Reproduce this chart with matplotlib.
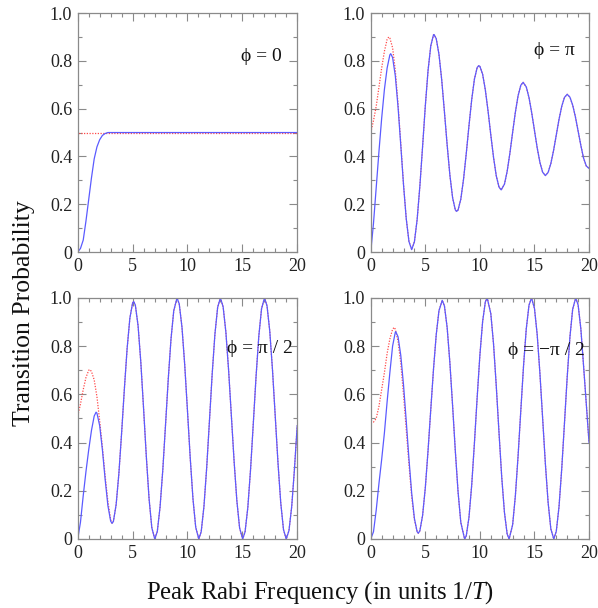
import matplotlib
matplotlib.use("Agg")
import matplotlib.pyplot as plt
from matplotlib.ticker import MultipleLocator, FuncFormatter

plt.rcParams['font.family'] = ['Liberation Serif', 'DejaVu Serif']
plt.rcParams['mathtext.fontset'] = 'custom'
plt.rcParams['mathtext.rm'] = 'Liberation Serif'
plt.rcParams['mathtext.it'] = 'Liberation Serif:italic'

# phase labels of the four panels
phase_labels = ["ϕ = 0", "ϕ = π", "ϕ = π / 2", "ϕ = −π / 2"]

# phi = 0
x_p0 = [0, 0.25, 0.5, 0.75, 1.0, 1.25, 1.5, 1.75, 2.0, 2.25, 2.5, 2.75, 3.0, 20]
blue_p0 = [0, 0.015, 0.05, 0.13, 0.22, 0.31, 0.39, 0.44, 0.47, 0.488, 0.496, 0.5, 0.5, 0.5]
red_x_p0 = [0, 20]
red_p0 = [0.5, 0.5]

# phi = pi
x_p1 = [0, 0.25, 0.5, 0.75, 1.0, 1.25, 1.5, 1.75, 1.83, 2.0, 2.25, 2.5, 2.75, 3.0, 3.25, 3.5,
        3.75, 4.0, 4.25, 4.5, 4.75, 5.0, 5.25, 5.5, 5.75, 5.8, 6.0, 6.25, 6.5, 6.75, 7.0, 7.25,
        7.5, 7.75, 7.87, 8.0, 8.25, 8.5, 8.75, 9.0, 9.25, 9.5, 9.75, 9.9, 10.0, 10.25, 10.5,
        10.75, 11.0, 11.25, 11.5, 11.75, 11.95, 12.25, 12.5, 12.75, 13.0, 13.25, 13.5, 13.75,
        13.96, 14.25, 14.5, 14.75, 15.0, 15.25, 15.5, 15.75, 16.0, 16.25, 16.5, 16.75, 17.0,
        17.25, 17.5, 17.75, 18.0, 18.25, 18.5, 18.75, 19.0, 19.25, 19.5, 19.75, 20.0]
blue_p1 = [0, 0.12, 0.27, 0.42, 0.56, 0.68, 0.77, 0.825, 0.83, 0.814, 0.737, 0.607, 0.447, 0.282,
           0.14, 0.044, 0.01, 0.043, 0.136, 0.276, 0.442, 0.612, 0.76, 0.863, 0.909, 0.91, 0.893,
           0.827, 0.721, 0.587, 0.448, 0.322, 0.227, 0.176, 0.17, 0.176, 0.221, 0.304, 0.412,
           0.529, 0.638, 0.724, 0.772, 0.78, 0.777, 0.744, 0.678, 0.589, 0.49, 0.396, 0.319,
           0.272, 0.26, 0.284, 0.338, 0.414, 0.501, 0.585, 0.654, 0.698, 0.71, 0.691, 0.646,
           0.582, 0.509, 0.436, 0.375, 0.334, 0.32, 0.333, 0.37, 0.425, 0.49, 0.555, 0.61,
           0.647, 0.66, 0.648, 0.615, 0.566, 0.506, 0.446, 0.393, 0.36, 0.35]
red_x_p1 = [0, 0.25, 0.5, 0.75, 1.0, 1.25, 1.5, 1.65, 1.75, 2.0, 2.25, 2.5, 2.75, 3.0]
red_p1 = [0.5, 0.55, 0.61, 0.69, 0.77, 0.84, 0.89, 0.9, 0.895, 0.855, 0.76, 0.62, 0.455, 0.285]

# phi = pi/2
x_p2 = [0, 0.25, 0.5, 0.75, 1.0, 1.25, 1.5, 1.67, 1.75, 2.0, 2.25, 2.5, 2.75, 3.0, 3.13, 3.25,
        3.5, 3.75, 4.0, 4.25, 4.5, 4.75, 5.0, 5.1, 5.25, 5.5, 5.75, 6.0, 6.25, 6.5, 6.75, 7.02,
        7.25, 7.5, 7.75, 8.0, 8.25, 8.5, 8.75, 9.05, 9.25, 9.5, 9.75, 10.0, 10.25, 10.5, 10.75,
        11.03, 11.25, 11.5, 11.75, 12.0, 12.25, 12.5, 12.75, 13.0, 13.25, 13.5, 13.75, 14.0,
        14.25, 14.5, 14.75, 15.03, 15.25, 15.5, 15.75, 16.0, 16.25, 16.5, 16.75, 17.02, 17.25,
        17.5, 17.75, 18.0, 18.25, 18.5, 18.75, 19.0, 19.25, 19.5, 19.75, 20.0]
blue_p2 = [0, 0.07, 0.18, 0.28, 0.37, 0.45, 0.51, 0.526, 0.522, 0.47, 0.369, 0.246, 0.138, 0.074,
           0.065, 0.073, 0.143, 0.272, 0.441, 0.623, 0.79, 0.916, 0.979, 0.985, 0.97, 0.884,
           0.732, 0.541, 0.342, 0.167, 0.047, 0.0, 0.031, 0.132, 0.286, 0.473, 0.664, 0.83,
           0.947, 1.0, 0.975, 0.878, 0.722, 0.532, 0.337, 0.167, 0.049, 0.0, 0.03, 0.134, 0.295,
           0.488, 0.683, 0.849, 0.961, 1.0, 0.963, 0.858, 0.699, 0.511, 0.322, 0.159, 0.046, 0.0,
           0.03, 0.131, 0.289, 0.48, 0.674, 0.841, 0.955, 1.0, 0.967, 0.862, 0.7, 0.508, 0.315,
           0.15, 0.039, 0.0, 0.035, 0.135, 0.29, 0.47]
red_x_p2 = [0, 0.25, 0.5, 0.75, 1.0, 1.1, 1.25, 1.5, 1.75, 2.0, 2.25, 2.5, 2.75, 3.0]
red_p2 = [0.51, 0.56, 0.62, 0.67, 0.70, 0.703, 0.695, 0.66, 0.59, 0.49, 0.38, 0.26, 0.155, 0.08]

# phi = -pi/2
x_p3 = [0, 0.25, 0.5, 0.75, 1.0, 1.25, 1.5, 1.75, 2.0, 2.25, 2.29, 2.5, 2.75, 3.0, 3.25, 3.5,
        3.75, 4.0, 4.25, 4.36, 4.5, 4.75, 5.0, 5.25, 5.5, 5.75, 6.0, 6.25, 6.55, 6.75, 7.0, 7.25,
        7.5, 7.75, 8.0, 8.25, 8.6, 8.75, 9.0, 9.25, 9.5, 9.75, 10.0, 10.25, 10.5, 10.67, 11.0,
        11.25, 11.5, 11.75, 12.0, 12.25, 12.5, 12.68, 13.0, 13.25, 13.5, 13.75, 14.0, 14.25,
        14.5, 14.73, 15.0, 15.25, 15.5, 15.75, 16.0, 16.25, 16.5, 16.77, 17.0, 17.25, 17.5,
        17.75, 18.0, 18.25, 18.5, 18.78, 19.0, 19.25, 19.5, 19.75, 20.0]
blue_p3 = [0, 0.03, 0.12, 0.23, 0.33, 0.44, 0.57, 0.69, 0.8, 0.858, 0.86, 0.839, 0.762, 0.64,
           0.49, 0.332, 0.19, 0.085, 0.03, 0.024, 0.034, 0.098, 0.213, 0.367, 0.538, 0.705,
           0.848, 0.947, 0.99, 0.967, 0.877, 0.731, 0.552, 0.364, 0.195, 0.069, 0.0, 0.013,
           0.09, 0.224, 0.399, 0.587, 0.763, 0.902, 0.984, 1.0, 0.935, 0.809, 0.635, 0.442,
           0.257, 0.11, 0.02, 0.0, 0.059, 0.179, 0.345, 0.534, 0.719, 0.872, 0.97, 1.0, 0.957,
           0.848, 0.687, 0.5, 0.312, 0.152, 0.042, 0.0, 0.032, 0.134, 0.292, 0.481, 0.672,
           0.838, 0.953, 1.0, 0.971, 0.872, 0.718, 0.56, 0.40]
red_x_p3 = [0, 0.25, 0.5, 0.75, 1.0, 1.25, 1.5, 1.75, 2.0, 2.15, 2.25, 2.5, 2.75, 3.0, 3.25,
            3.5, 3.75, 4.0, 4.25]
red_p3 = [0.49, 0.485, 0.5, 0.55, 0.62, 0.69, 0.77, 0.83, 0.87, 0.878, 0.87, 0.82, 0.73, 0.6,
          0.455, 0.31, 0.175, 0.08, 0.03]

panels = [
    (x_p0, blue_p0, red_x_p0, red_p0),
    (x_p1, blue_p1, red_x_p1, red_p1),
    (x_p2, blue_p2, red_x_p2, red_p2),
    (x_p3, blue_p3, red_x_p3, red_p3),
]

# label positions in data coords
label_pos = [(16.7, 0.82), (16.8, 0.845), (16.6, 0.79), (16.1, 0.78)]

# axes rectangles in figure fraction
rects = [
    [0.130, 0.5855, 0.367, 0.393],
    [0.620, 0.5855, 0.365, 0.393],
    [0.130, 0.1135, 0.367, 0.3965],
    [0.620, 0.1135, 0.365, 0.3965],
]

BLUE = '#5b5bff'
RED = '#ff4a4a'
SPINE = '#8a8a8a'


def y_fmt(v, pos):
    if abs(v) < 1e-9:
        return "0"
    return "%.1f" % v


fig = plt.figure(figsize=(5.98, 6.08), dpi=100)

for i, (xs, ys, rx, ry) in enumerate(panels):
    ax = fig.add_axes(rects[i])
    # red dotted continues along the blue curve after it merges
    red_x = list(rx) + [x for x in xs if x > rx[-1]]
    red_y = list(ry) + [y for x, y in zip(xs, ys) if x > rx[-1]]
    ax.plot(red_x, red_y, color=RED, lw=0.9, ls=(0, (1, 1.2)))
    ax.plot(xs, ys, color=BLUE, lw=0.9)

    ax.set_xlim(0, 20)
    ax.set_ylim(0, 1.0)
    ax.xaxis.set_major_locator(MultipleLocator(5))
    ax.xaxis.set_minor_locator(MultipleLocator(1))
    ax.yaxis.set_major_locator(MultipleLocator(0.2))
    ax.yaxis.set_minor_locator(MultipleLocator(0.1))
    ax.yaxis.set_major_formatter(FuncFormatter(y_fmt))
    ax.tick_params(which='both', direction='in', top=True, right=True, color=SPINE,
                   labelsize=13, labelcolor='#222222', width=0.8)
    ax.tick_params(which='major', length=6, pad=4)
    ax.tick_params(which='minor', length=3)
    for s in ax.spines.values():
        s.set_color(SPINE)
        s.set_linewidth(0.9)

    lx, ly = label_pos[i]
    ax.text(lx, ly, phase_labels[i], ha='center', va='center', fontsize=14, color='#111111')

fig.text(0.040, 0.485, "Transition Probability", rotation=90, ha='center', va='center',
         fontsize=18.5, color='#111111')
fig.text(0.535, 0.026, "Peak Rabi Frequency (in units 1/$T$)", ha='center', va='center',
         fontsize=17.8, color='#111111')

plt.savefig("out.png", dpi=100)
